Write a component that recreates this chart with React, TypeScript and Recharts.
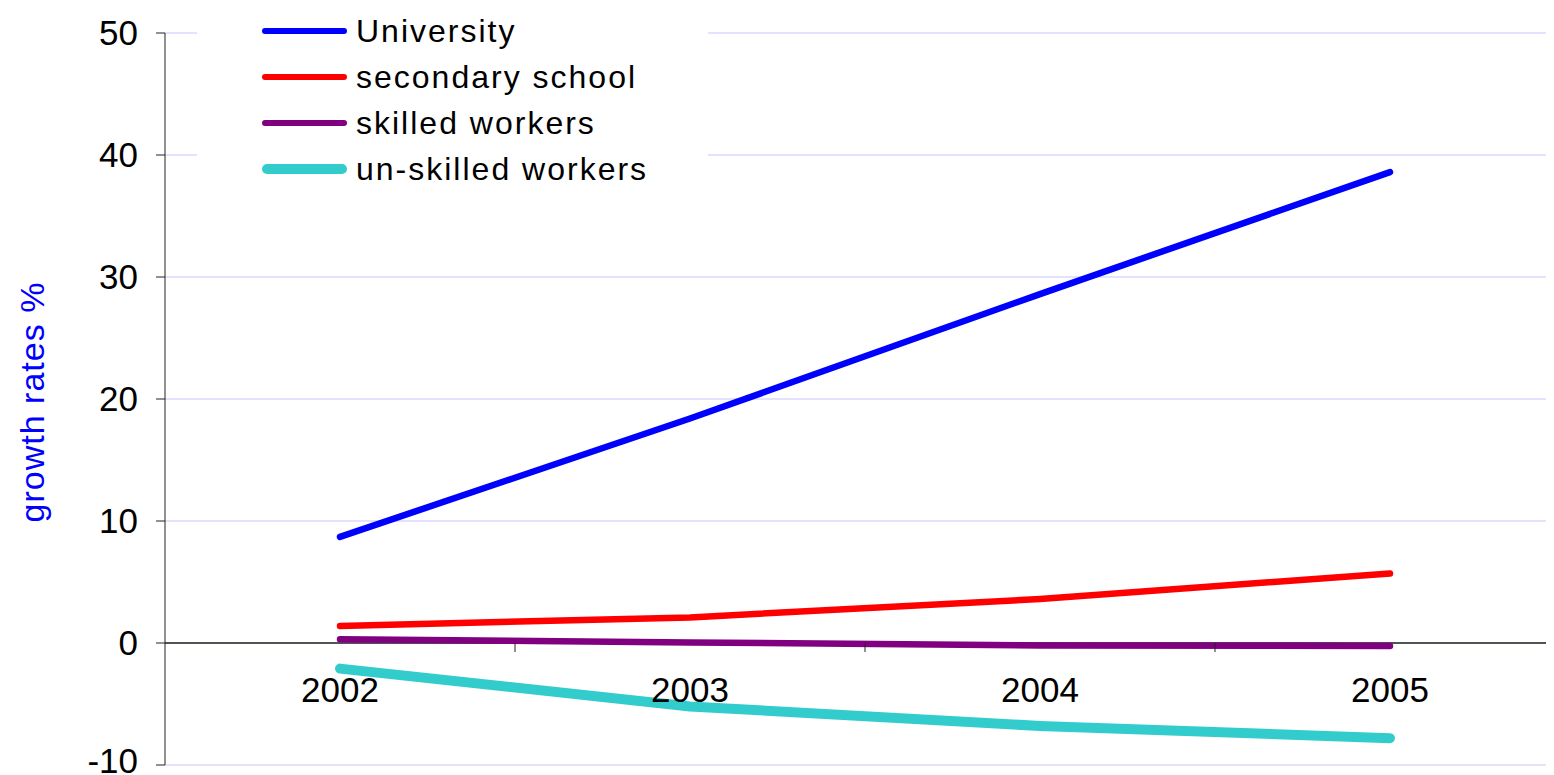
import React from 'react';
import { LineChart, Line, XAxis, YAxis, CartesianGrid, ReferenceLine } from 'recharts';

// category labels and series values
const years = ['2002', '2003', '2004', '2005'];
const university = [8.7, 18.4, 28.6, 38.6];
const secondary = [1.4, 2.1, 3.6, 5.7];
const skilled = [0.3, 0.05, -0.2, -0.25];
const unskilled = [-2.1, -5.2, -6.8, -7.8];
const yTicks = [-10, 0, 10, 20, 30, 40, 50];

const SERIES = [
  { key: 'university', name: 'University', color: '#0000ff', width: 6.5, values: university },
  { key: 'secondary', name: 'secondary school', color: '#ff0000', width: 6.5, values: secondary },
  { key: 'skilled', name: 'skilled workers', color: '#800080', width: 6.5, values: skilled },
  { key: 'unskilled', name: 'un-skilled workers', color: '#33cccc', width: 10, values: unskilled },
];

const data = years.map((year, i) => {
  const row: Record<string, any> = { year };
  SERIES.forEach(s => { row[s.key] = s.values[i]; });
  return row;
});

const FONT = '"Liberation Sans", Arial, sans-serif';
const CHART_W = 1600;
const CHART_H = 767;
const Y_AXIS_W = 157;
const MARGIN = { top: 25, right: 43, left: 0, bottom: 9 };
const X_AXIS_H = 1;
const PLOT_W = CHART_W - Y_AXIS_W - MARGIN.left - MARGIN.right;
const PLOT_H = CHART_H - MARGIN.top - MARGIN.bottom - X_AXIS_H;
const Y_MIN = -10;
const Y_MAX = 50;

// x axis sits at y = 0, so the year labels and the boundary ticks are drawn there
const zeroY = MARGIN.top + PLOT_H * (Y_MAX - 0) / (Y_MAX - Y_MIN);
const band = PLOT_W / years.length;

const YearTick = (props: any) => {
  const { x, payload, index } = props;
  return (
    <g>
      {index < years.length - 1 && (
        <line x1={x + band / 2} x2={x + band / 2} y1={zeroY} y2={zeroY + 9} stroke="#222" strokeWidth={1} />
      )}
      <text x={x} y={zeroY + 47} dy="0.355em" textAnchor="middle" fontSize={35} fill="#000" fontFamily={FONT}>
        {payload.value}
      </text>
    </g>
  );
};

// the lowest label sits at the bottom edge; nudge it up so it stays whole
const ValueTick = (props: any) => {
  const { x, y, payload } = props;
  const lift = payload.value === Y_MIN ? -4 : 0;
  return (
    <text x={x} y={y + lift} dy="0.355em" textAnchor="end" fontSize={35} fill="#000" fontFamily={FONT}>
      {payload.value}
    </text>
  );
};

const App: React.FC = () => {
  return (
    <div style={{ position: 'relative', width: 1546, height: CHART_H, overflow: 'hidden', fontFamily: FONT }}>
      <LineChart width={CHART_W} height={CHART_H} data={data} margin={MARGIN}>
        <CartesianGrid vertical={false} stroke="#dadaff" strokeWidth={1.5} />
        <XAxis
          dataKey="year"
          scale="band"
          height={X_AXIS_H}
          axisLine={false}
          tickLine={false}
          interval={0}
          tick={<YearTick />}
        />
        <YAxis
          type="number"
          domain={[Y_MIN, Y_MAX]}
          ticks={yTicks}
          interval={0}
          width={Y_AXIS_W}
          tickSize={9}
          tickMargin={18}
          axisLine={{ stroke: '#222' }}
          tickLine={{ stroke: '#222' }}
          tick={<ValueTick />}
        />
        <ReferenceLine y={0} stroke="#222" strokeWidth={1.5} />
        {SERIES.map(s => (
          <Line
            key={s.key}
            dataKey={s.key}
            name={s.name}
            type="linear"
            stroke={s.color}
            strokeWidth={s.width}
            strokeLinecap="round"
            strokeLinejoin="round"
            dot={false}
            activeDot={false}
            isAnimationActive={false}
          />
        ))}
      </LineChart>

      {/* legend box, white so it hides the gridlines behind it */}
      <div style={{ position: 'absolute', left: 189, top: 0, width: 511, height: 190, background: '#fff' }}>
        {SERIES.map((s, i) => (
          <div
            key={s.key}
            style={{ position: 'absolute', left: 0, top: i * 46, height: 46, display: 'flex', alignItems: 'center' }}
          >
            <div style={{ marginLeft: 65, width: 85, height: s.width, borderRadius: 5, background: s.color }} />
            <span style={{ marginLeft: 9, fontSize: 32, letterSpacing: 2, color: '#000', whiteSpace: 'nowrap' }}>{s.name}</span>
          </div>
        ))}
      </div>

      <div
        style={{
          position: 'absolute', left: 24, top: 394, transform: 'translate(-50%, -50%) rotate(-90deg)',
          fontSize: 34, letterSpacing: 1, color: '#0000ff', whiteSpace: 'nowrap',
        }}
      >
        growth rates %
      </div>
    </div>
  );
};

export default App;
